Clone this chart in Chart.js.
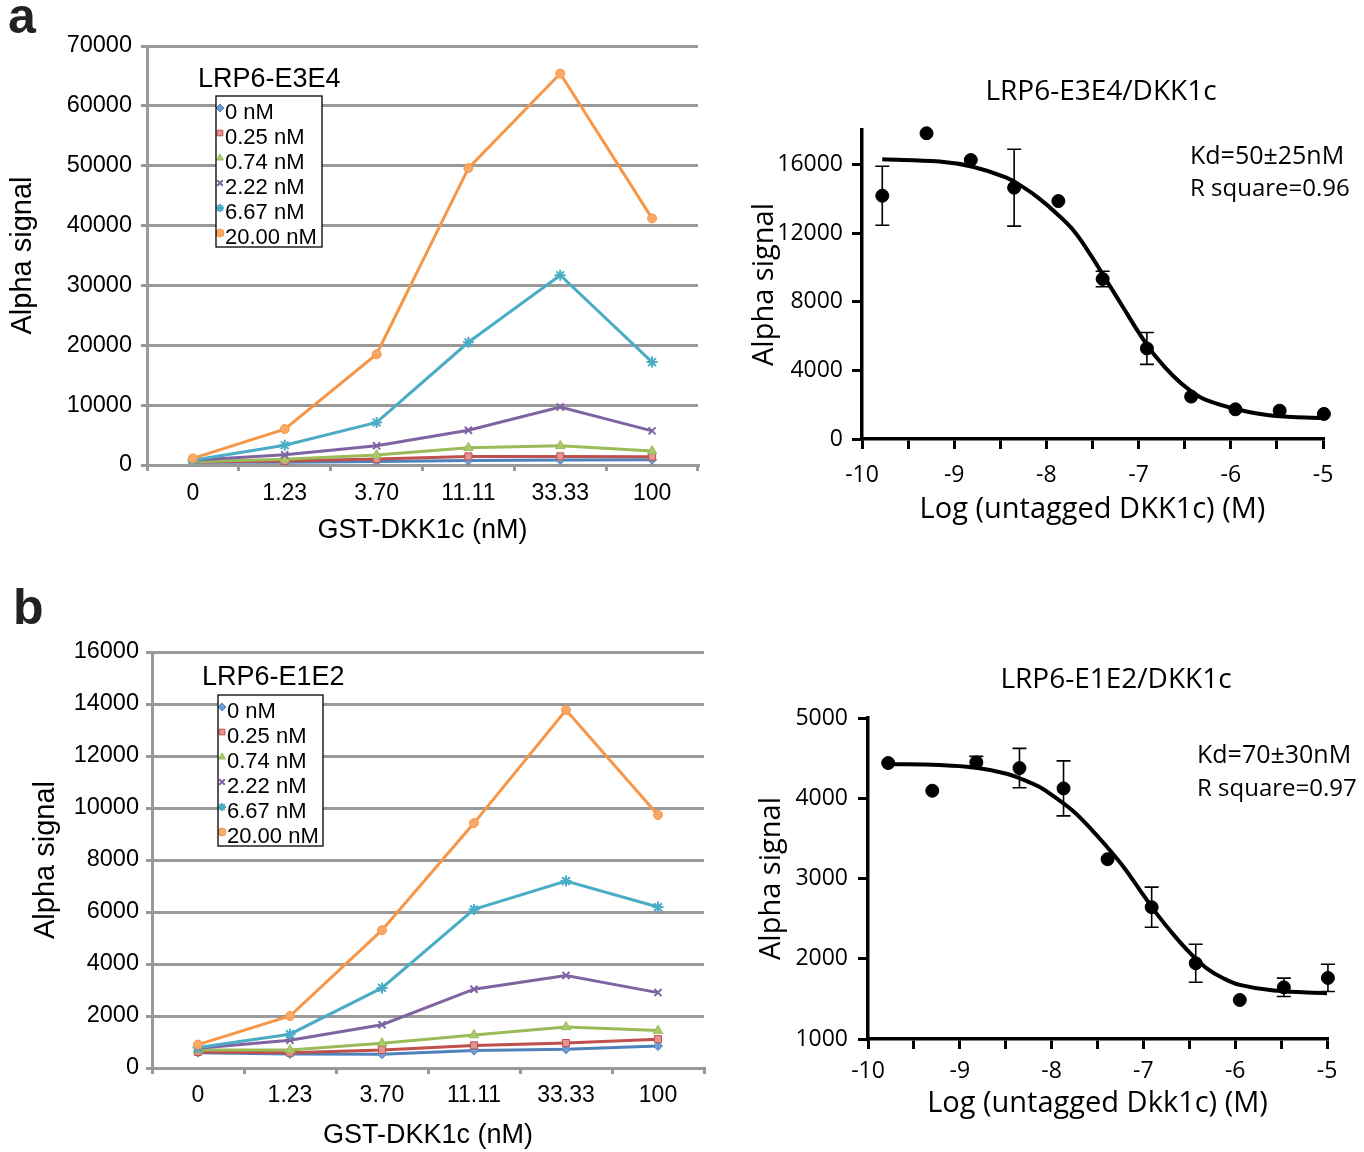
<!DOCTYPE html>
<html>
<head>
<meta charset="utf-8">
<script src="https://cdn.jsdelivr.net/npm/chart.js@4.4.1/dist/chart.umd.min.js"></script>
<style>
  body { margin: 0; background: #fff; }
  #fig { position: relative; width: 1364px; height: 1152px; overflow: hidden; }
  .panel { position: absolute; }
  .letter { position: absolute; font: bold 50px 'Liberation Sans', Arial, sans-serif; line-height: 1; color: #222; }
</style>
</head>
<body>
<div id="fig">
  <div class="letter" style="left:8px;top:-9px">a</div>
  <div class="letter" style="left:13px;top:582px">b</div>
  <div class="panel" style="left:0;top:0;width:720px;height:560px"><canvas id="e3e4Dose"></canvas></div>
  <div class="panel" style="left:730px;top:40px;width:634px;height:500px"><canvas id="e3e4Comp"></canvas></div>
  <div class="panel" style="left:0;top:590px;width:725px;height:562px"><canvas id="e1e2Dose"></canvas></div>
  <div class="panel" style="left:730px;top:640px;width:634px;height:512px"><canvas id="e1e2Comp"></canvas></div>
</div>
<script>
// GST-DKK1c titration (x categories) and LRP6 receptor concentrations (series)
const doses = ['0', '1.23', '3.70', '11.11', '33.33', '100'];
const receptorLabels = ['0 nM', '0.25 nM', '0.74 nM', '2.22 nM', '6.67 nM', '20.00 nM'];

const e3e4_0nM = [450, 440, 600, 770, 830, 880];
const e3e4_025nM = [500, 660, 1000, 1440, 1440, 1380];
const e3e4_074nM = [550, 940, 1660, 2870, 3200, 2320];
const e3e4_222nM = [800, 1700, 3200, 5800, 9700, 5700];
const e3e4_667nM = [800, 3300, 7100, 20500, 31700, 17200];
const e3e4_20nM = [1100, 6000, 18500, 49600, 65400, 41200];

const e1e2_0nM = [590, 540, 530, 670, 720, 845];
const e1e2_025nM = [620, 590, 690, 870, 960, 1110];
const e1e2_074nM = [690, 690, 950, 1270, 1580, 1440];
const e1e2_222nM = [760, 1070, 1665, 3030, 3560, 2900];
const e1e2_667nM = [790, 1300, 3080, 6100, 7190, 6190];
const e1e2_20nM = [900, 2000, 5300, 9420, 13770, 9730];

// competition with untagged DKK1c, log molar
const logConc = [-9.78, -9.30, -8.82, -8.35, -7.87, -7.39, -6.91, -6.43, -5.95, -5.47, -4.99];

const e3e4Signal = [14170, 17810, 16250, 14640, 13860, 9320, 5275, 2470, 1730, 1650, 1460];
const e3e4Error = [1720, 0, 0, 2240, 0, 450, 925, 0, 0, 0, 0];
const e3e4FitX = [-9.78, -9.16, -8.80, -8.44, -8.26, -8.08, -7.89, -7.71, -7.53, -7.35, -7.17, -6.99, -6.81, -6.63, -6.45, -6.27, -5.90, -5.54, -4.98];
const e3e4FitY = [16290, 16160, 15860, 15240, 14700, 14020, 13140, 12170, 10800, 9250, 7690, 6130, 4770, 3700, 2860, 2280, 1690, 1360, 1210];
const e3e4Ticks = [0, 4000, 8000, 12000, 16000];

const e1e2Signal = [4439, 4094, 4447, 4376, 4123, 3241, 2642, 1944, 1486, 1644, 1761];
const e1e2Error = [0, 0, 75, 245, 343, 0, 250, 237, 0, 115, 170];
const e1e2FitX = [-9.78, -9.22, -8.86, -8.49, -8.31, -8.13, -7.95, -7.76, -7.58, -7.40, -7.22, -7.04, -6.86, -6.67, -6.49, -6.31, -6.13, -5.95, -5.58, -5.00];
const e1e2FitY = [4426, 4414, 4385, 4306, 4231, 4139, 4002, 3836, 3628, 3399, 3150, 2859, 2568, 2297, 2069, 1881, 1757, 1674, 1603, 1570];
const e1e2Ticks = [1000, 2000, 3000, 4000, 5000];

const seriesColors = ['#4F81BD', '#C0504D', '#9BBB59', '#8064A2', '#4BACC6', '#F79646'];
const seriesFills = ['#6f9bd6', '#e39593', '#a9c96a', '#8064A2', '#4BACC6', '#f9a865'];
const seriesMarkers = ['rectRot', 'rect', 'triangle', 'crossRot', 'star', 'circle'];
const seriesRadius = [4.5, 5, 5.5, 5, 5.5, 4.5];

const excelFont = "'Liberation Sans', Arial, sans-serif";
const prismFont = "'Open Sans', 'Noto Sans', sans-serif";

Chart.defaults.animation = false;
Chart.defaults.devicePixelRatio = 1;

function drawMarker(ctx, style, radius, x, y, color, fill) {
  ctx.save();
  ctx.strokeStyle = color;
  ctx.fillStyle = fill;
  ctx.lineWidth = style === 'crossRot' || style === 'star' ? 2 : 1;
  if (Chart.helpers && Chart.helpers.drawPoint) {
    Chart.helpers.drawPoint(ctx, { pointStyle: style, radius: radius, borderWidth: ctx.lineWidth, rotation: 0 }, x, y);
  } else {
    ctx.beginPath();
    ctx.arc(x, y, radius, 0, Math.PI * 2);
    ctx.fill();
  }
  ctx.restore();
}

// boxed legend that sits inside the plot, like the Excel one
const legendBox = {
  id: 'legendBox',
  afterDatasetsDraw(chart, args, opts) {
    if (!opts.box) return;
    const ctx = chart.ctx;
    const [l, t, w, h] = opts.box;
    ctx.save();
    ctx.fillStyle = '#fff';
    ctx.fillRect(l, t, w, h);
    ctx.beginPath();
    ctx.rect(l, t, w, h);
    ctx.clip();
    ctx.font = '22px ' + excelFont;
    ctx.textBaseline = 'middle';
    chart.data.datasets.forEach((ds, i) => {
      const y = t + 17 + i * 25;
      ctx.fillStyle = '#000';
      ctx.fillText(ds.label, l + 9, y);
      drawMarker(ctx, ds.pointStyle, 4, l + 4, y - 5, ds.borderColor, ds.pointBackgroundColor);
    });
    ctx.restore();
    ctx.save();
    ctx.strokeStyle = '#000';
    ctx.lineWidth = 1.3;
    ctx.strokeRect(l, t, w, h);
    ctx.restore();
  }
};

// free text such as panel titles and fit results
const notes = {
  id: 'notes',
  afterDraw(chart, args, opts) {
    if (!opts.items) return;
    const ctx = chart.ctx;
    ctx.save();
    ctx.fillStyle = '#000';
    ctx.textBaseline = 'middle';
    opts.items.forEach(item => {
      ctx.font = item.font;
      ctx.textAlign = item.align || 'left';
      ctx.fillText(item.text, item.x, item.y);
    });
    ctx.restore();
  }
};

// vertical error bars for the first dataset
const errorBars = {
  id: 'errorBars',
  beforeDatasetsDraw(chart, args, opts) {
    if (!opts.errors) return;
    const ctx = chart.ctx;
    const yScale = chart.scales.y;
    const meta = chart.getDatasetMeta(0);
    const values = chart.data.datasets[0].data;
    ctx.save();
    ctx.strokeStyle = '#000';
    ctx.lineWidth = 1.6;
    meta.data.forEach((pt, i) => {
      const e = opts.errors[i];
      if (!e) return;
      const v = values[i].y;
      const top = yScale.getPixelForValue(v + e);
      const bottom = yScale.getPixelForValue(v - e);
      ctx.beginPath();
      ctx.moveTo(pt.x, top);
      ctx.lineTo(pt.x, bottom);
      ctx.moveTo(pt.x - 7, top);
      ctx.lineTo(pt.x + 7, top);
      ctx.moveTo(pt.x - 7, bottom);
      ctx.lineTo(pt.x + 7, bottom);
      ctx.stroke();
    });
    ctx.restore();
  }
};

function doseChart(id, seriesList, cfg) {
  const datasets = seriesList.map((values, i) => ({
    label: receptorLabels[i],
    data: values,
    borderColor: seriesColors[i],
    backgroundColor: seriesColors[i],
    pointBackgroundColor: seriesFills[i],
    pointBorderColor: seriesColors[i],
    pointStyle: seriesMarkers[i],
    pointRadius: seriesRadius[i],
    pointBorderWidth: seriesMarkers[i] === 'crossRot' || seriesMarkers[i] === 'star' ? 2 : 1,
    borderWidth: 3,
    tension: 0,
    order: 6 - i
  }));
  return new Chart(document.getElementById(id), {
    type: 'line',
    data: { labels: doses, datasets: datasets },
    plugins: [legendBox, notes],
    options: {
      responsive: true,
      maintainAspectRatio: false,
      layout: { padding: cfg.padding },
      plugins: {
        legend: { display: false },
        tooltip: { enabled: false },
        legendBox: { box: cfg.box },
        notes: { items: [{ text: cfg.title, x: cfg.titleX, y: cfg.titleY, font: '27px ' + excelFont }] }
      },
      scales: {
        x: {
          offset: true,
          grid: { offset: true, drawOnChartArea: false, color: '#999', lineWidth: 3, tickLength: 6 },
          border: { color: '#999', width: 3 },
          ticks: { color: '#000', font: { family: excelFont, size: 23 }, padding: cfg.xPad, maxRotation: 0 },
          title: { display: true, text: 'GST-DKK1c (nM)', color: '#000', font: { family: excelFont, size: 27 }, padding: { bottom: cfg.xTitlePad } },
          afterFit(scale) { scale.height = cfg.xHeight; }
        },
        y: {
          min: 0,
          max: cfg.yMax,
          ticks: { stepSize: cfg.yStep, color: '#000', font: { family: excelFont, size: 23.5 }, padding: cfg.yPad, callback: v => String(v) },
          grid: { color: '#999', lineWidth: 3, tickLength: 6 },
          border: { color: '#999', width: 3 },
          title: { display: true, text: 'Alpha signal', color: '#000', font: { family: excelFont, size: 29 }, padding: { top: cfg.yTitlePad } },
          afterFit(scale) { scale.width = cfg.yWidth; }
        }
      }
    }
  });
}

function compChart(id, signal, error, fitX, fitY, yTicks, cfg) {
  return new Chart(document.getElementById(id), {
    type: 'scatter',
    data: {
      datasets: [
        {
          label: 'data',
          data: logConc.map((x, i) => ({ x: x, y: signal[i] })),
          backgroundColor: '#000',
          borderColor: '#000',
          pointRadius: 6.5,
          pointHoverRadius: 6.5,
          clip: false
        },
        {
          label: 'fit',
          type: 'line',
          data: fitX.map((x, i) => ({ x: x, y: fitY[i] })),
          borderColor: '#000',
          borderWidth: 4,
          pointRadius: 0,
          tension: 0.4,
          fill: false,
          clip: false
        }
      ]
    },
    plugins: [errorBars, notes],
    options: {
      responsive: true,
      maintainAspectRatio: false,
      layout: { padding: cfg.padding },
      plugins: {
        legend: { display: false },
        tooltip: { enabled: false },
        errorBars: { errors: error },
        notes: { items: cfg.notes }
      },
      scales: {
        x: {
          type: 'linear',
          min: -10,
          max: -5,
          grid: { drawOnChartArea: false, color: '#000', lineWidth: 3, tickLength: 10 },
          border: { color: '#000', width: 3.5 },
          ticks: {
            stepSize: 0.5,
            autoSkip: false,
            maxRotation: 0,
            color: '#000',
            font: { family: prismFont, size: 23 },
            padding: cfg.xPad,
            callback: v => Number.isInteger(v) ? String(v) : ''
          },
          title: { display: true, text: cfg.xTitle, color: '#000', font: { family: prismFont, size: 29 }, padding: { bottom: cfg.xTitlePad } },
          afterFit(scale) { scale.height = cfg.xHeight; }
        },
        y: {
          min: cfg.yMin,
          max: cfg.yMax,
          grid: { drawOnChartArea: false, color: '#000', lineWidth: 3, tickLength: 10 },
          border: { color: '#000', width: 3.5 },
          ticks: { color: '#000', font: { family: prismFont, size: 23 }, padding: cfg.yPad, callback: v => String(v) },
          afterBuildTicks(scale) { scale.ticks = yTicks.map(v => ({ value: v })); },
          title: { display: true, text: 'Alpha signal', color: '#000', font: { family: prismFont, size: 29 }, padding: { top: cfg.yTitlePad } },
          afterFit(scale) { scale.width = cfg.yWidth; }
        }
      }
    }
  });
}

doseChart('e3e4Dose', [e3e4_0nM, e3e4_025nM, e3e4_074nM, e3e4_222nM, e3e4_667nM, e3e4_20nM], {
  padding: { top: 46, right: 22, left: 0, bottom: 0 },
  yMax: 70000, yStep: 10000,
  yWidth: 147, xHeight: 95,
  xPad: 9, yPad: 9, xTitlePad: 13, yTitlePad: 6,
  box: [216, 96, 106, 151],
  title: 'LRP6-E3E4', titleX: 198, titleY: 80
});

doseChart('e1e2Dose', [e1e2_0nM, e1e2_025nM, e1e2_074nM, e1e2_222nM, e1e2_667nM, e1e2_20nM], {
  padding: { top: 62, right: 21, left: 0, bottom: 0 },
  yMax: 16000, yStep: 2000,
  yWidth: 152, xHeight: 84,
  xPad: 8, yPad: 7, xTitlePad: 0, yTitlePad: 29,
  box: [218, 105, 105, 151],
  title: 'LRP6-E1E2', titleX: 202, titleY: 88
});

compChart('e3e4Comp', e3e4Signal, e3e4Error, e3e4FitX, e3e4FitY, e3e4Ticks, {
  padding: { top: 90, right: 41, left: 0, bottom: 0 },
  yMin: 0, yMax: 18000,
  yWidth: 132, xHeight: 101,
  xPad: 13, yPad: 9, xTitlePad: 13, yTitlePad: 17,
  xTitle: 'Log (untagged DKK1c) (M)',
  notes: [
    { text: 'LRP6-E3E4/DKK1c', x: 371, y: 52, font: '28px ' + prismFont, align: 'center' },
    { text: 'Kd=50\u00b125nM', x: 460, y: 117, font: '25px ' + prismFont },
    { text: 'R square=0.96', x: 460, y: 149, font: '24px ' + prismFont }
  ]
});

compChart('e1e2Comp', e1e2Signal, e1e2Error, e1e2FitX, e1e2FitY, e1e2Ticks, {
  padding: { top: 78, right: 37, left: 0, bottom: 0 },
  yMin: 1000, yMax: 5000,
  yWidth: 138, xHeight: 113,
  xPad: 9, yPad: 10, xTitlePad: 31, yTitlePad: 24,
  xTitle: 'Log (untagged Dkk1c) (M)',
  notes: [
    { text: 'LRP6-E1E2/DKK1c', x: 386, y: 40, font: '28px ' + prismFont, align: 'center' },
    { text: 'Kd=70\u00b130nM', x: 467, y: 116, font: '25px ' + prismFont },
    { text: 'R square=0.97', x: 467, y: 149, font: '24px ' + prismFont }
  ]
});
</script>
</body>
</html>
